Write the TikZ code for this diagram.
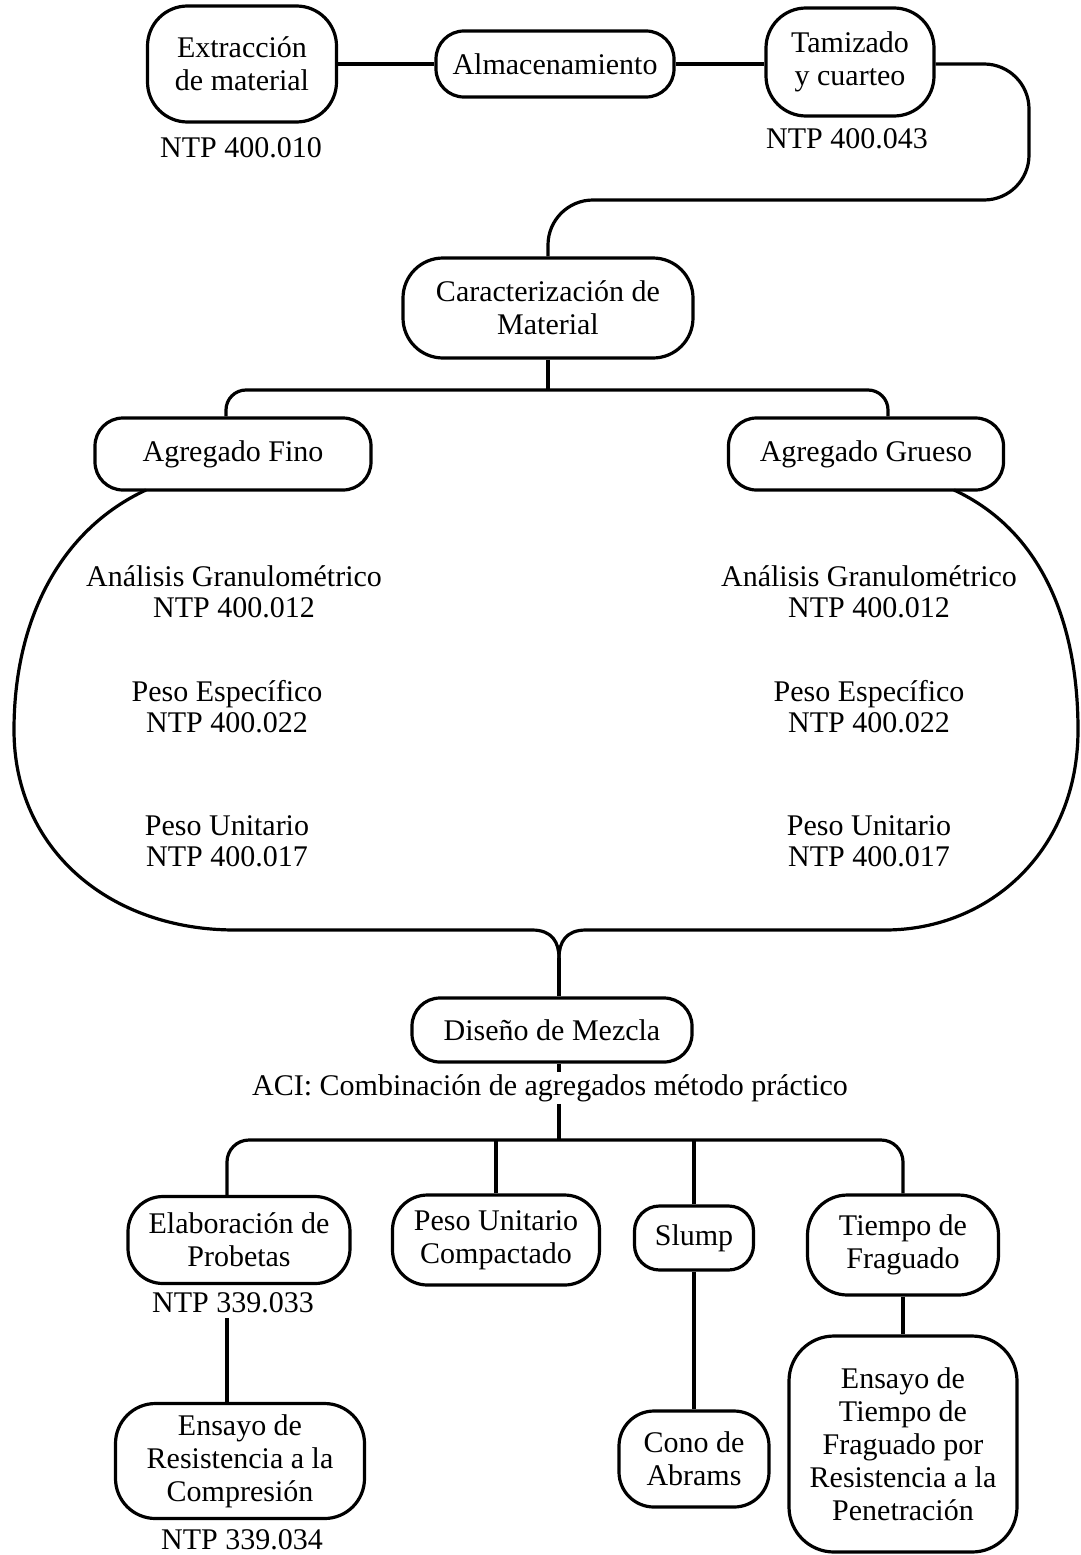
\documentclass[tikz,border=0pt]{standalone}
\usepackage{fontspec}
\setmainfont{Liberation Serif}
\begin{document}
\begin{tikzpicture}[x=1pt,y=-1pt,
  box/.style={draw, line width=3.2pt, rounded corners=#1, align=center, inner sep=0pt, font=\fontsize{30}{33}\selectfont},
  box/.default=30pt,
  conn/.style={line width=3.2pt},
  lbl/.style={align=center, inner sep=0pt, font=\fontsize{30}{33}\selectfont},
  lbltwo/.style={align=center, inner sep=0pt, font=\fontsize{30}{31}\selectfont}]
\useasboundingbox (0,0) rectangle (1081,1555);
% top row
\node[box=40pt, minimum width=189pt, minimum height=116pt] (ext) at (242,64) {Extracción\\de material};
\node[box=28pt, minimum width=238pt, minimum height=66pt] (alm) at (555,64) {Almacenamiento};
\node[box=40pt, minimum width=168pt, minimum height=108pt] (tam) at (850,62) {Tamizado\\y cuarteo};
\node[lbl] (n1) at (241,148) {NTP 400.010};
\node[lbl] (n2) at (847,139) {NTP 400.043};
\draw[conn] (ext.east) -- (alm.west);
\draw[conn] (alm.east) -- (alm.east -| tam.west);
% caracterizacion
\node[box=40pt, minimum width=290pt, minimum height=100pt] (car) at (548,308) {Caracterización de\\Material};
\coordinate (tr) at (1029,200);
\draw[conn, rounded corners=45pt] (alm.east -| tam.east) -- (alm.east -| tr) -- (tr) -- (tr -| car.north) -- (car.north);
% agregados
\node[box=28pt, minimum width=276pt, minimum height=72pt] (fino) at (233,454) {Agregado Fino};
\node[box=28pt, minimum width=275pt, minimum height=72pt] (grueso) at (866,454) {Agregado Grueso};
\coordinate (vf) at (226,390);
\coordinate (vg) at (888,390);
\draw[conn, rounded corners=20pt] (vf |- fino.north) -- (vf) -- (vg) -- (vg |- grueso.north);
\draw[conn] (car.south) -- (car.south |- vf);
% tests inside the big shape
\node[lbltwo] (fa) at (234,592) {Análisis Granulométrico\\NTP 400.012};
\node[lbltwo] (fb) at (227,707) {Peso Específico\\NTP 400.022};
\node[lbltwo] (fc) at (227,841) {Peso Unitario\\NTP 400.017};
\node[lbltwo] (ga) at (869,592) {Análisis Granulométrico\\NTP 400.012};
\node[lbltwo] (gb) at (869,707) {Peso Específico\\NTP 400.022};
\node[lbltwo] (gc) at (869,841) {Peso Unitario\\NTP 400.017};
% big shape
\coordinate (fl) at (146,490);
\coordinate (fr) at (954,490);
\coordinate (jm) at (559,958);
\draw[conn] (fl) .. controls (60,530) and (14,620) .. (14,730)
  .. controls (14,850) and (110,930) .. (235,930) -- (532,930)
  .. controls (552,930) and (559,942) .. (jm);
\draw[conn] (fr) .. controls (1040,530) and (1078,620) .. (1078,730)
  .. controls (1078,850) and (990,930) .. (885,930) -- (586,930)
  .. controls (566,930) and (559,942) .. (jm);
% diseno
\node[box=28pt, minimum width=280pt, minimum height=64pt] (dis) at (552,1030) {Diseño de Mezcla};
\node[lbl, inner sep=2pt] (aci) at (550,1088) {ACI: Combinación de agregados método práctico};
\coordinate (b2) at (559,1140);
\draw[conn] (jm) -- (jm |- dis.north);
\draw[conn] (b2 |- dis.south) -- (b2 |- aci.north);
\draw[conn] (b2 |- aci.south) -- (b2);
% bottom row
\node[box=35pt, minimum width=222pt, minimum height=87pt] (elab) at (239,1240) {Elaboración de\\Probetas};
\node[box=35pt, minimum width=207pt, minimum height=90pt] (puc) at (496,1240) {Peso Unitario\\Compactado};
\node[box=25pt, minimum width=119pt, minimum height=64pt] (slump) at (694,1238) {Slump};
\node[box=40pt, minimum width=191pt, minimum height=100pt] (tiempo) at (903,1245) {Tiempo de\\Fraguado};
\coordinate (ve) at (227,1140);
\draw[conn, rounded corners=22pt] (ve |- elab.north) -- (ve) -- (tiempo.north |- ve) -- (tiempo.north);
\draw[conn] (puc.north) -- (puc.north |- b2);
\draw[conn] (slump.north) -- (slump.north |- b2);
% lower boxes
\node[lbl, inner sep=5pt] (n3) at (233,1303) {NTP 339.033};
\node[box=40pt, minimum width=249pt, minimum height=115pt] (ens) at (240,1461) {Ensayo de\\Resistencia a la\\Compresión};
\node[lbl] (n4) at (242,1540) {NTP 339.034};
\draw[conn] (ve |- n3.south) -- (ve |- ens.north);
\node[box=35pt, minimum width=150pt, minimum height=96pt] (cono) at (694,1459) {Cono de\\Abrams};
\draw[conn] (slump.south) -- (cono.north);
\node[box=45pt, minimum width=228pt, minimum height=216pt] (enst) at (903,1444) {Ensayo de\\Tiempo de\\Fraguado por\\Resistencia a la\\Penetración};
\draw[conn] (tiempo.south) -- (enst.north);
\end{tikzpicture}
\end{document}
